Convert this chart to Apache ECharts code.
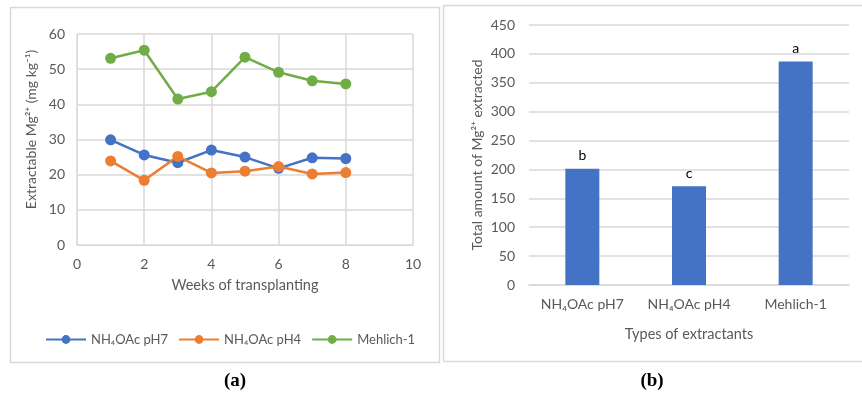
<!DOCTYPE html>
<html>
<head>
<meta charset="utf-8">
<script src="https://cdn.jsdelivr.net/npm/echarts@6/dist/echarts.min.js"></script>
<style>
	html, body { margin: 0; padding: 0; background: #fff; }
	#chart { width: 862px; height: 397px; }
</style>
</head>
<body>
<div id="chart"></div>
<script>
// (a) weekly extractable Mg2+
const weeks = [ 1, 2, 3, 4, 5, 6, 7, 8 ];
const ph7Values = [ 29.9, 25.6, 23.4, 27.0, 25.0, 21.8, 24.8, 24.6 ];
const ph4Values = [ 23.9, 18.4, 25.2, 20.5, 21.0, 22.3, 20.2, 20.6 ];
const mehlichValues = [ 53.1, 55.4, 41.5, 43.6, 53.4, 49.1, 46.7, 45.8 ];
const lineNames = [ 'NH\u2084OAc pH7', 'NH\u2084OAc pH4', 'Mehlich-1' ];

// (b) total amount extracted
const extractants = [ 'NH\u2084OAc pH7', 'NH\u2084OAc pH4', 'Mehlich-1' ];
const totals = [ 201, 171, 387 ];
const letters = [ 'b', 'c', 'a' ];

const colors = [ '#4472C4', '#ED7D31', '#70AD47' ];
const font = 'Lato, "Open Sans", sans-serif';
const grey = '#595959';
const gridGrey = '#d9d9d9';

const pairs = ( values ) => weeks.map( ( w, i ) => [ w, values[ i ] ] );

const lineSeries = ( name, values, color ) => ( {
	name,
	type: 'line',
	xAxisIndex: 0,
	yAxisIndex: 0,
	data: pairs( values ),
	symbol: 'circle',
	symbolSize: 11,
	lineStyle: { color, width: 2.5 },
	itemStyle: { color },
	emphasis: { disabled: true }
} );

const chart = echarts.init( document.getElementById( 'chart' ), null, { renderer: 'canvas' } );

chart.setOption( {
	animation: false,
	textStyle: { fontFamily: font },
	grid: [
		{ left: 77, top: 34, width: 336, height: 211 },
		{ left: 529, top: 25, width: 320, height: 260 }
	],
	legend: {
		data: lineNames,
		left: 40,
		top: 328,
		itemWidth: 40,
		itemHeight: 11,
		itemGap: 10,
		textStyle: { color: grey, fontSize: 13, fontFamily: font }
	},
	xAxis: [
		{
			gridIndex: 0,
			type: 'value',
			min: 0,
			max: 10,
			interval: 2,
			name: 'Weeks of transplanting',
			nameLocation: 'middle',
			nameGap: 33,
			nameTextStyle: { color: grey, fontSize: 14.5 },
			axisLine: { lineStyle: { color: gridGrey } },
			axisTick: { show: false },
			axisLabel: { color: grey, fontSize: 14, margin: 12 },
			splitLine: { show: true, lineStyle: { color: gridGrey, width: 1.5 } }
		},
		{
			gridIndex: 1,
			type: 'category',
			data: extractants,
			name: 'Types of extractants',
			nameLocation: 'middle',
			nameGap: 42,
			nameTextStyle: { color: grey, fontSize: 14.5 },
			axisLine: { lineStyle: { color: gridGrey, width: 1.5 } },
			axisTick: { show: false },
			axisLabel: { color: grey, fontSize: 14, margin: 12, interval: 0, hideOverlap: false }
		}
	],
	yAxis: [
		{
			gridIndex: 0,
			type: 'value',
			min: 0,
			max: 60,
			interval: 10,
			name: 'Extractable Mg\u00B2\u207A (mg kg\u207B\u00B9)',
			nameLocation: 'middle',
			nameGap: 39,
			nameTextStyle: { color: grey, fontSize: 14, padding: [ 0, 0, 0, 20 ] },
			axisLine: { show: true, lineStyle: { color: gridGrey } },
			axisTick: { show: false },
			axisLabel: { color: grey, fontSize: 14, margin: 12 },
			splitLine: { show: true, lineStyle: { color: gridGrey, width: 1.5 } }
		},
		{
			gridIndex: 1,
			type: 'value',
			min: 0,
			max: 450,
			interval: 50,
			name: 'Total amount of Mg\u00B2\u207A extracted',
			nameLocation: 'middle',
			nameGap: 45,
			nameTextStyle: { color: grey, fontSize: 14 },
			axisLine: { show: false },
			axisTick: { show: false },
			axisLabel: { color: grey, fontSize: 14, margin: 14 },
			splitLine: { show: true, lineStyle: { color: gridGrey, width: 1.5 } }
		}
	],
	series: [
		lineSeries( lineNames[ 0 ], ph7Values, colors[ 0 ] ),
		lineSeries( lineNames[ 1 ], ph4Values, colors[ 1 ] ),
		lineSeries( lineNames[ 2 ], mehlichValues, colors[ 2 ] ),
		{
			name: 'Total',
			type: 'bar',
			xAxisIndex: 1,
			yAxisIndex: 1,
			data: totals,
			barWidth: 34,
			itemStyle: { color: '#4472C4' },
			label: {
				show: true,
				position: 'top',
				distance: 6,
				color: '#000',
				fontSize: 14,
				formatter: ( p ) => letters[ p.dataIndex ]
			},
			emphasis: { disabled: true }
		}
	],
	graphic: [
		{
			type: 'rect',
			shape: { x: 10.5, y: 7.5, width: 429, height: 355 },
			style: { fill: 'none', stroke: gridGrey, lineWidth: 1.5 },
			silent: true
		},
		{
			type: 'rect',
			shape: { x: 443.5, y: 5.5, width: 420, height: 356 },
			style: { fill: 'none', stroke: gridGrey, lineWidth: 1.5 },
			silent: true
		},
		{
			type: 'text',
			x: 235,
			y: 381,
			style: {
				text: '(a)',
				fill: '#000',
				font: 'bold 19px "Liberation Serif", serif',
				align: 'center',
				verticalAlign: 'middle'
			}
		},
		{
			type: 'text',
			x: 652,
			y: 381,
			style: {
				text: '(b)',
				fill: '#000',
				font: 'bold 19px "Liberation Serif", serif',
				align: 'center',
				verticalAlign: 'middle'
			}
		}
	]
} );
</script>
</body>
</html>
